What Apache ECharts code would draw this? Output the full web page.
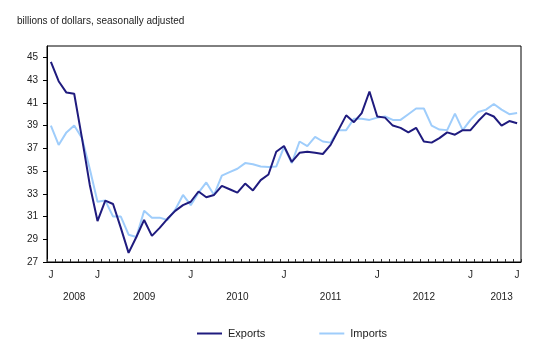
<!DOCTYPE html>
<html>
<head>
<meta charset="utf-8">
<script src="https://cdn.jsdelivr.net/npm/echarts@6/dist/echarts.min.js"></script>
<style>
html,body{margin:0;padding:0;background:#fff;}
#chart{width:552px;height:357px;}
</style>
</head>
<body>
<div id="chart"></div>
<script>
const months = [
  '2008-07','2008-08','2008-09','2008-10','2008-11','2008-12',
  '2009-01','2009-02','2009-03','2009-04','2009-05','2009-06','2009-07','2009-08','2009-09','2009-10','2009-11','2009-12',
  '2010-01','2010-02','2010-03','2010-04','2010-05','2010-06','2010-07','2010-08','2010-09','2010-10','2010-11','2010-12',
  '2011-01','2011-02','2011-03','2011-04','2011-05','2011-06','2011-07','2011-08','2011-09','2011-10','2011-11','2011-12',
  '2012-01','2012-02','2012-03','2012-04','2012-05','2012-06','2012-07','2012-08','2012-09','2012-10','2012-11','2012-12',
  '2013-01','2013-02','2013-03','2013-04','2013-05','2013-06','2013-07'
];
const exportsData = [
  44.6, 42.9, 41.9, 41.8, 37.9, 33.8,
  30.6, 32.4, 32.1, 30.0, 27.8, 29.2, 30.7, 29.3, 30.0, 30.8, 31.5, 32.0,
  32.3, 33.2, 32.7, 32.9, 33.7, 33.4, 33.1, 33.9, 33.3, 34.2, 34.7, 36.7,
  37.2, 35.8, 36.6, 36.7, 36.6, 36.5, 37.3, 38.6, 39.9, 39.3, 40.1, 42.0,
  39.8, 39.7, 39.0, 38.8, 38.4, 38.8, 37.6, 37.5, 37.9, 38.4, 38.2, 38.6,
  38.6, 39.4, 40.1, 39.8, 39.0, 39.4, 39.2
];
const importsData = [
  39.0, 37.3, 38.4, 39.0, 37.9, 35.2,
  32.3, 32.4, 31.0, 31.0, 29.4, 29.2, 31.5, 30.9, 30.9, 30.7, 31.6, 32.9,
  32.0, 33.1, 34.0, 32.9, 34.6, 34.9, 35.2, 35.7, 35.6, 35.4, 35.35, 35.4,
  37.1, 35.7, 37.6, 37.2, 38.0, 37.6, 37.5, 38.6, 38.6, 39.6, 39.6, 39.5,
  39.7, 39.8, 39.5, 39.5, 40.0, 40.5, 40.5, 39.0, 38.65, 38.6, 40.05, 38.6,
  39.5, 40.2, 40.4, 40.9, 40.4, 40.0, 40.1
];
const monthLabelAt = ['2008-07','2009-01','2010-01','2011-01','2012-01','2013-01','2013-07'];
const monthLabelText = ['J','J','J','J','J','J','J'];
const yearLabelAt = ['2008-10','2009-07','2010-07','2011-07','2012-07','2013-05'];
const yearLabelText = ['2008','2009','2010','2011','2012','2013'];
const yTicks = [27,29,31,33,35,37,39,41,43,45];
const titleText = 'billions of dollars, seasonally adjusted';
const seriesNames = ['Exports','Imports'];

const FONT = '"Liberation Sans", Arial, sans-serif';
const chart = echarts.init(document.getElementById('chart'), null, {renderer:'canvas'});
chart.setOption({
  animation: false,
  backgroundColor: '#fff',
  title: {
    text: titleText, left: 12, top: 11,
    textStyle: {fontFamily: FONT, fontSize: 10, fontWeight: 'normal', color: '#222'}
  },
  legend: {
    data: seriesNames, left: 192, top: 323, icon: 'rect',
    itemWidth: 25, itemHeight: 2, itemGap: 54,
    textStyle: {fontFamily: FONT, fontSize: 11, color: '#222', padding: [0,0,0,1]}
  },
  grid: {left: 47, right: 31, top: 46, bottom: 95, show: true, borderColor: '#000', borderWidth: 1},
  xAxis: [{
    type: 'category', data: months, boundaryGap: true, position: 'bottom',
    axisLine: {lineStyle: {color: '#000', width: 1}},
    axisTick: {show: true, inside: true, length: 3, interval: 0, lineStyle: {color: '#333'}},
    axisLabel: {
      interval: (i, v) => monthLabelAt.indexOf(v) >= 0,
      formatter: v => monthLabelText[monthLabelAt.indexOf(v)],
      margin: 8, fontFamily: FONT, fontSize: 10, color: '#222'
    },
    splitLine: {show: false}
  }, {
    type: 'category', data: months, boundaryGap: true, position: 'bottom',
    axisLine: {show: false}, axisTick: {show: false},
    axisLabel: {
      interval: (i, v) => yearLabelAt.indexOf(v) >= 0,
      formatter: v => yearLabelText[yearLabelAt.indexOf(v)],
      margin: 30, fontFamily: FONT, fontSize: 10, color: '#222'
    },
    splitLine: {show: false}
  }],
  yAxis: {
    type: 'value', min: 27, max: 46,
    axisLine: {show: true, lineStyle: {color: '#000', width: 1}},
    axisTick: {show: true, length: 4, customValues: yTicks, lineStyle: {color: '#000'}},
    axisLabel: {customValues: yTicks, margin: 9, fontFamily: FONT, fontSize: 10, color: '#222'},
    splitLine: {show: false}
  },
  series: [{
    name: seriesNames[0], type: 'line', data: exportsData, xAxisIndex: 0,
    symbol: 'none', z: 3, color: '#1f1b7e',
    lineStyle: {width: 2, color: '#1f1b7e'}
  }, {
    name: seriesNames[1], type: 'line', data: importsData, xAxisIndex: 0,
    symbol: 'none', z: 2, color: '#9fcdfb',
    lineStyle: {width: 2, color: '#9fcdfb'}
  }]
});
</script>
</body>
</html>
